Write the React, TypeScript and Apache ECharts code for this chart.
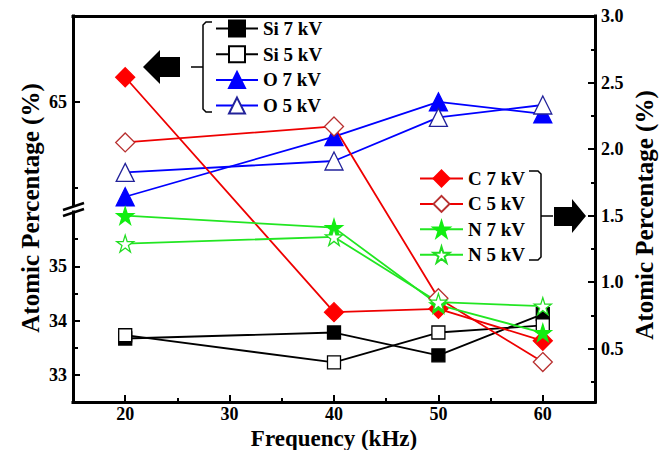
import { useEffect, useRef } from "react";
import * as echarts from "echarts";

// ---------- data ----------
const frequencies = [20, 40, 50, 60];
// left axis (lower segment)
const si7 = [33.67, 33.78, 33.36, 34.12];
const si5 = [33.73, 33.23, 33.78, 33.91];
// left axis (upper segment)
const o7 = [62.24, 63.99, 65.0, 64.65];
const o5 = [62.95, 63.28, 64.55, 64.91];
// right axis
const c7 = [2.54, 0.775, 0.8, 0.56];
const c5 = [2.05, 2.17, 0.88, 0.4];
const n7 = [1.5, 1.41, 0.83, 0.62];
const n5 = [1.29, 1.34, 0.85, 0.82];

const xMajorTicks = [20, 30, 40, 50, 60];
const xMinorTicks = [25, 35, 45, 55];
const rightMajorTicks = [0.5, 1.0, 1.5, 2.0, 2.5, 3.0];
const rightMinorTicks = [0.25, 0.75, 1.25, 1.75, 2.25, 2.75];
const upperMajorTicks = [65];
const upperMinorTicks = [62.5];
const lowerMajorTicks = [33, 34, 35];
const lowerMinorTicks = [33.5, 34.5, 35.5];

const legendLeft = ["Si 7 kV", "Si 5 kV", "O 7 kV", "O 5 kV"];
const legendRight = ["C 7 kV", "C 5 kV", "N 7 kV", "N 5 kV"];

const STAR =
  "path://M50,0 L61.2,34.5 L97.6,34.5 L68.2,55.9 L79.4,90.5 L50,69.1 L20.6,90.5 L31.8,55.9 L2.4,34.5 L38.8,34.5 Z";

const FONT = "Liberation Serif";

export default function App() {
  const ref = useRef<HTMLDivElement>(null);
  useEffect(() => {
    if (!ref.current) return;
    const chart = echarts.init(ref.current, null, { renderer: "svg" });

    const L = 73,
      W = 522,
      TOP = 16,
      H = 386;
    const upTop = 16,
      upH = 189;
    const lowTop = 212,
      lowH = 190;

    const labelFont = {
      fontFamily: FONT,
      fontWeight: "bold" as const,
      fontSize: 18,
      color: "#000",
    };
    const tick = (vals: number[], len: number) => ({
      show: true,
      inside: true,
      length: len,
      customValues: vals,
      lineStyle: { color: "#000", width: 2 },
    });
    const line3 = { show: true, lineStyle: { color: "#000", width: 3, cap: "square" } };
    const hiddenX = (grid: number) => ({
      type: "value",
      gridIndex: grid,
      min: 15,
      max: 65,
      show: false,
    });

    const mk = (
      name: string,
      vals: number[],
      xi: number,
      yi: number,
      symbol: string,
      size: number,
      fill: string,
      stroke: string,
      lineColor: string
    ) => ({
      type: "line",
      name,
      data: frequencies.map((f, i) => [f, vals[i]]),
      xAxisIndex: xi,
      yAxisIndex: yi,
      symbol,
      symbolSize: size,
      showSymbol: true,
      clip: false,
      lineStyle: { color: lineColor, width: 1.8 },
      itemStyle: { color: fill, borderColor: stroke, borderWidth: 1.3 },
      emphasis: { disabled: true },
    });

    const legendBase = {
      orient: "vertical",
      padding: 0,
      itemWidth: 43,
      itemHeight: 20,
      selectedMode: false,
      textStyle: { fontFamily: FONT, fontWeight: "bold", fontSize: 19, color: "#000" },
    };

    const titleStyle = {
      fontFamily: FONT,
      fontWeight: "bold",
      fontSize: 25,
      fill: "#000",
      align: "center",
      verticalAlign: "middle",
    };

    const option: any = {
      animation: false,
      backgroundColor: "#fff",
      grid: [
        { left: L, top: TOP, width: W, height: H, outerBoundsMode: "none", containLabel: false },
        { left: L, top: upTop, width: W, height: upH, outerBoundsMode: "none", containLabel: false },
        { left: L, top: lowTop, width: W, height: lowH, outerBoundsMode: "none", containLabel: false },
        { left: L, top: TOP, width: W, height: H, outerBoundsMode: "none", containLabel: false },
        { left: L, top: upTop, width: W, height: upH, outerBoundsMode: "none", containLabel: false },
        { left: L, top: lowTop, width: W, height: lowH, outerBoundsMode: "none", containLabel: false },
      ],
      xAxis: [
        {
          type: "value",
          gridIndex: 0,
          position: "bottom",
          min: 15,
          max: 65,
          axisLine: { ...line3, onZero: false },
          axisTick: tick(xMajorTicks, 7),
          axisLabel: { ...labelFont, margin: 3, customValues: xMajorTicks },
          splitLine: { show: false },
        },
        {
          type: "value",
          gridIndex: 0,
          position: "top",
          min: 15,
          max: 65,
          axisLine: { ...line3, onZero: false },
          axisTick: { show: false },
          axisLabel: { show: false },
          splitLine: { show: false },
        },
        hiddenX(1),
        hiddenX(2),
        {
          type: "value",
          gridIndex: 3,
          position: "bottom",
          min: 15,
          max: 65,
          axisLine: { show: false, onZero: false },
          axisTick: tick(xMinorTicks, 4),
          axisLabel: { show: false },
          splitLine: { show: false },
        },
        hiddenX(4),
        hiddenX(5),
      ],
      yAxis: [
        {
          type: "value",
          gridIndex: 0,
          position: "right",
          min: 0.1,
          max: 3.0,
          axisLine: { ...line3, onZero: false },
          axisTick: tick(rightMajorTicks, 7),
          axisLabel: {
            ...labelFont,
            margin: 6,
            customValues: rightMajorTicks,
            formatter: (v: number) => v.toFixed(1),
          },
          splitLine: { show: false },
        },
        {
          type: "value",
          gridIndex: 1,
          position: "left",
          min: 62.0,
          max: 67.5,
          axisLine: { ...line3, onZero: false },
          axisTick: tick(upperMajorTicks, 7),
          axisLabel: { ...labelFont, margin: 6, customValues: upperMajorTicks },
          splitLine: { show: false },
        },
        {
          type: "value",
          gridIndex: 2,
          position: "left",
          min: 32.5,
          max: 36,
          axisLine: { ...line3, onZero: false },
          axisTick: tick(lowerMajorTicks, 7),
          axisLabel: { ...labelFont, margin: 6, customValues: lowerMajorTicks },
          splitLine: { show: false },
        },
        {
          type: "value",
          gridIndex: 3,
          position: "right",
          min: 0.1,
          max: 3.0,
          axisLine: { show: false, onZero: false },
          axisTick: tick(rightMinorTicks, 4),
          axisLabel: { show: false },
          splitLine: { show: false },
        },
        {
          type: "value",
          gridIndex: 4,
          position: "left",
          min: 62.0,
          max: 67.5,
          axisLine: { show: false, onZero: false },
          axisTick: tick(upperMinorTicks, 5),
          axisLabel: { show: false },
          splitLine: { show: false },
        },
        {
          type: "value",
          gridIndex: 5,
          position: "left",
          min: 32.5,
          max: 36,
          axisLine: { show: false, onZero: false },
          axisTick: tick(lowerMinorTicks, 5),
          axisLabel: { show: false },
          splitLine: { show: false },
        },
      ],
      legend: [
        { ...legendBase, left: 215, top: 19, itemWidth: 42, itemGap: 6.7, data: legendLeft },
        { ...legendBase, left: 419, top: 169, itemGap: 6.4, data: legendRight },
      ],
      series: [
        mk("Si 7 kV", si7, 3, 2, "rect", 13, "#000", "#000", "#000"),
        mk("Si 5 kV", si5, 3, 2, "rect", 13, "#fff", "#000", "#000"),
        mk("O 7 kV", o7, 2, 1, "triangle", 18, "#0000ff", "#0000ff", "#0000ff"),
        mk("O 5 kV", o5, 2, 1, "triangle", 18, "#fff", "#22229a", "#0000ff"),
        mk("C 7 kV", c7, 0, 0, "diamond", 19, "#ff0000", "#ff0000", "#ee0000"),
        mk("C 5 kV", c5, 0, 0, "diamond", 19, "#fff", "#b83030", "#ee0000"),
        mk("N 7 kV", n7, 0, 0, STAR, 17, "#11ee11", "#11ee11", "#22e622"),
        mk("N 5 kV", n5, 0, 0, STAR, 17, "#fff", "#22dd22", "#22e622"),
      ],
      graphic: [
        {
          type: "text",
          x: 30,
          y: 208,
          rotation: Math.PI / 2,
          style: { ...titleStyle, text: "Atomic Percentage (%)" },
        },
        {
          type: "text",
          x: 644,
          y: 215,
          rotation: Math.PI / 2,
          style: { ...titleStyle, text: "Atomic Percentage (%)" },
        },
        {
          type: "text",
          x: 334,
          y: 438,
          style: { ...titleStyle, fontSize: 23, text: "Frequency (kHz)" },
        },
        // axis break marks
        {
          type: "line",
          shape: { x1: 63, y1: 210, x2: 84, y2: 203 },
          style: { stroke: "#000", lineWidth: 2.5 },
        },
        {
          type: "line",
          shape: { x1: 63, y1: 216, x2: 84, y2: 209 },
          style: { stroke: "#000", lineWidth: 2.5 },
        },
        // left legend bracket + arrow
        {
          type: "polyline",
          shape: {
            points: [[212, 22], [206, 22], [203, 25], [203, 109], [206, 112], [212, 112]],
          },
          style: { stroke: "#000", lineWidth: 1.5, fill: "none" },
        },
        {
          type: "line",
          shape: { x1: 203, y1: 67, x2: 191, y2: 67 },
          style: { stroke: "#000", lineWidth: 1.5 },
        },
        {
          type: "polygon",
          shape: {
            points: [[143, 67], [160, 50], [160, 57], [180, 57], [180, 77], [160, 77], [160, 84]],
          },
          style: { fill: "#000" },
        },
        // right legend bracket + arrow
        {
          type: "polyline",
          shape: {
            points: [[529, 171], [538, 171], [541, 174], [541, 257], [538, 260], [529, 260]],
          },
          style: { stroke: "#000", lineWidth: 1.5, fill: "none" },
        },
        {
          type: "line",
          shape: { x1: 541, y1: 216, x2: 553, y2: 216 },
          style: { stroke: "#000", lineWidth: 1.5 },
        },
        {
          type: "polygon",
          shape: {
            points: [[586, 216], [572, 199], [572, 207], [554, 207], [554, 226], [572, 226], [572, 233]],
          },
          style: { fill: "#000" },
        },
      ],
    };

    chart.setOption(option);
    return () => chart.dispose();
  }, []);

  return (
    <div
      ref={ref}
      style={{ position: "fixed", left: 0, top: 0, width: 668, height: 450, background: "#fff" }}
    />
  );
}
